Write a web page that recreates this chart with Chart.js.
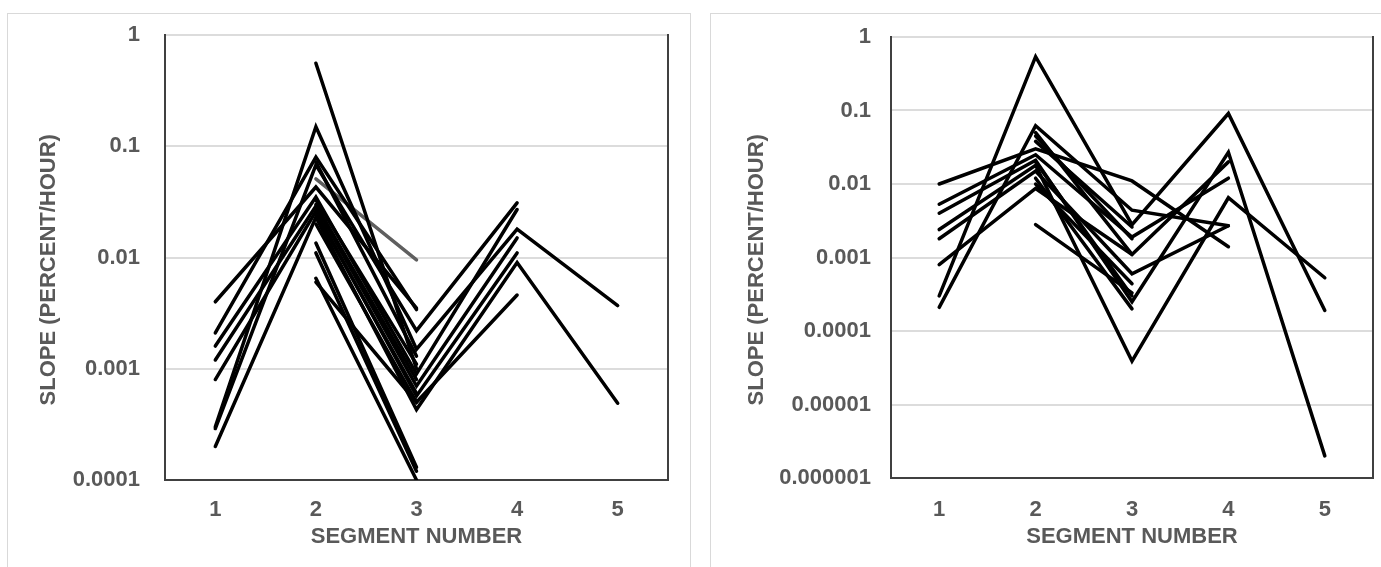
<!DOCTYPE html>
<html>
<head>
<meta charset="utf-8">
<title>Slope by segment</title>
<script src="https://cdn.jsdelivr.net/npm/chart.js@4.4.1/dist/chart.umd.min.js"></script>
<style>
  html, body { margin: 0; padding: 0; background: #fff; overflow: hidden; width: 1381px; height: 567px; }
  .panel { position: absolute; border: 1px solid #d9d9d9; background: #fff; }
  #p-left  { left: 7px;   top: 13px; width: 682px; height: 600px; }
  #p-right { left: 710px; top: 13px; width: 700px; height: 600px; }
  canvas { display: block; }
</style>
</head>
<body>
<div class="panel" id="p-left"><canvas id="chart-left" width="682" height="553"></canvas></div>
<div class="panel" id="p-right"><canvas id="chart-right" width="670" height="553"></canvas></div>

<script>
// ── Data ──────────────────────────────────────────────────
const segments   = ['1', '2', '3', '4', '5'];
const leftTicks  = [0.0001, 0.001, 0.01, 0.1, 1];
const rightTicks = [0.000001, 0.00001, 0.0001, 0.001, 0.01, 0.1, 1];

// left panel – one array per test, slope at segments 1..5
const left01 = [0.004,   0.043, 0.0035,  null,   null];
const left02 = [0.0021,  0.08,  0.0034,  null,   null];
const left03 = [0.0016,  0.035, 0.0009,  0.027,  null];
const left04 = [0.0012,  0.029, 0.0007,  0.015,  null];
const left05 = [0.0008,  0.026, 0.00057, 0.011,  null];
const left06 = [0.0003,  0.15,  0.0015,  0.018,  0.0037];
const left07 = [0.00029, 0.068, 0.0022,  0.031,  null];
const left08 = [0.0002,  0.023, 0.00043, 0.009,  0.00049];
const left09 = [null,    0.557, 0.001,   null,   null];
const left10 = [null,    0.0135, 0.00013, null,  null];
const left11 = [null,    0.011, 0.00012, null,   null];
const left12 = [null,    0.0065, 0.0001, null,   null];
const left13 = [null,    0.006, 0.0005,  0.0046, null];
const left14 = [null,    0.033, 0.0011,  null,   null];
const left15 = [null,    0.03,  0.0008,  null,   null];
const left16 = [null,    0.025, 0.0006,  null,   null];
const left17 = [null,    0.02,  0.0005,  null,   null];
const left18 = [null,    0.072, 0.0013,  null,   null];
const leftGray = [null,  0.051, 0.0095,  null,   null];

// right panel
const right01 = [0.01,    0.03,   0.011,    0.0014, null];
const right02 = [0.0003,  0.54,   0.0028,   0.091,  0.00019];
const right03 = [0.00021, 0.062,  0.0044,   0.0027, null];
const right04 = [0.0053,  0.025,  0.0019,   0.012,  null];
const right05 = [0.004,   0.021,  0.00025,  0.027,  0.000002];
const right06 = [0.0024,  0.018,  0.000039, 0.0065, 0.00053];
const right07 = [0.0018,  0.015,  0.0006,   0.0027, null];
const right08 = [0.0008,  0.0087, 0.0011,   0.02,   null];
const right09 = [null,    0.0028, 0.00033,  null,   null];
const right10 = [null,    0.038,  0.0026,   null,   null];
const right11 = [null,    0.012,  0.0002,   null,   null];
const right12 = [null,    0.01,   0.00044,  null,   null];
const right13 = [null,    0.045,  0.0018,   null,   null];
const right14 = [null,    0.02,   0.0003,   null,   null];
const right15 = [null,    0.05,   0.0011,   null,   null];

const leftBlack  = [left01, left02, left03, left04, left05, left06, left07, left08, left09,
                    left10, left11, left12, left13, left14, left15, left16, left17, left18];
const rightBlack = [right01, right02, right03, right04, right05, right06, right07, right08,
                    right09, right10, right11, right12, right13, right14, right15];

// ── Setup ─────────────────────────────────────────────────
const TEXT = '#595959';
const AXIS = '#404040';
Chart.defaults.font.family = "'Liberation Sans', Arial, sans-serif";
Chart.defaults.color = TEXT;
Chart.defaults.animation = false;

// plot frame on the right side (Excel draws the plot area border there)
const rightFrame = {
  id: 'rightFrame',
  afterDatasetsDraw(chart) {
    const { ctx, chartArea: a } = chart;
    ctx.save();
    ctx.strokeStyle = AXIS;
    ctx.lineWidth = 2;
    ctx.beginPath();
    ctx.moveTo(a.right, a.top - 1);
    ctx.lineTo(a.right, a.bottom + 1);
    ctx.stroke();
    ctx.restore();
  }
};

function lineSet(data, color) {
  return {
    data,
    borderColor: color,
    borderWidth: 3.5,
    pointRadius: 0,
    borderCapStyle: 'round',
    borderJoinStyle: 'miter',
    fill: false,
    spanGaps: false
  };
}

function makeChart(id, series, gray, ticks, lay) {
  const datasets = series.map(s => lineSet(s, '#000000'));
  if (gray) datasets.push(lineSet(gray, '#5f5f5f'));

  return new Chart(document.getElementById(id), {
    type: 'line',
    data: { labels: segments, datasets },
    options: {
      responsive: false,
      layout: { padding: { top: lay.top, right: lay.right, left: 0, bottom: 0 } },
      plugins: { legend: { display: false }, tooltip: { enabled: false } },
      scales: {
        x: {
          type: 'category',
          offset: true,
          grid: { display: false, drawTicks: false },
          border: { display: true, color: AXIS, width: 2 },
          ticks: { padding: lay.xPad, color: TEXT, font: { size: 22, weight: 'bold' } },
          title: {
            display: true, text: 'SEGMENT NUMBER', color: TEXT,
            font: { size: 22, weight: 'bold' }, padding: { top: 0, bottom: 17 }
          },
          afterFit: s => { s.height = lay.xHeight; s.paddingLeft = 0; s.paddingRight = 0; }
        },
        y: {
          type: 'logarithmic',
          min: ticks[0],
          max: ticks[ticks.length - 1],
          grid: { color: '#dcdcdc', lineWidth: 2, drawTicks: false },
          border: { display: true, color: AXIS, width: 2 },
          ticks: {
            padding: lay.yPad, color: TEXT, font: { size: 22, weight: 'bold' },
            callback: v => String(v)
          },
          afterBuildTicks: s => { s.ticks = ticks.map(v => ({ value: v })); },
          title: {
            display: true, text: 'SLOPE (PERCENT/HOUR)    ', color: TEXT,
            font: { size: 22, weight: 'bold' }, padding: { top: lay.titlePad, bottom: 0 }
          },
          afterFit: s => { s.width = lay.yWidth; s.paddingTop = 0; s.paddingBottom = 0; }
        }
      }
    },
    plugins: [rightFrame]
  });
}

// ── Render ────────────────────────────────────────────────
makeChart('chart-left', leftBlack, leftGray, leftTicks,
  { top: 21, right: 22, yWidth: 157, xHeight: 87, xPad: 17, yPad: 25, titlePad: 28 });

makeChart('chart-right', rightBlack, null, rightTicks,
  { top: 23, right: 8, yWidth: 180, xHeight: 89, xPad: 19, yPad: 20, titlePad: 33 });
</script>
</body>
</html>
